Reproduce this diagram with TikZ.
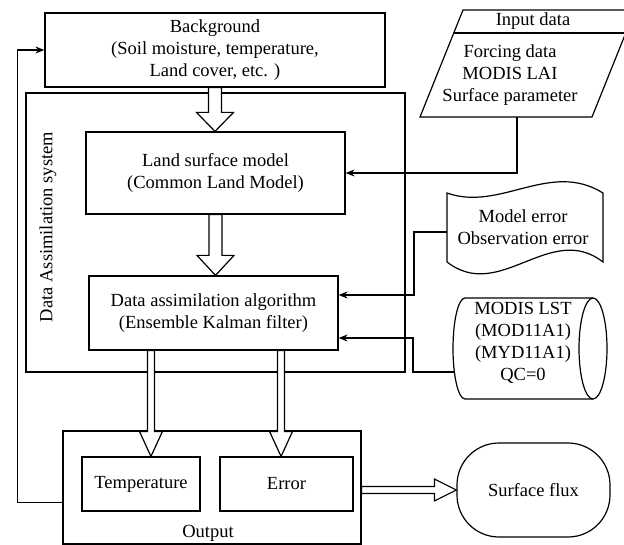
\documentclass[tikz,border=0pt]{standalone}
\usepackage{fontspec}
\setmainfont{Liberation Serif}
\usetikzlibrary{arrows.meta,calc}
\tikzset{
  box/.style={draw,line width=1.2pt,fill=white,align=center,inner sep=0pt,
    font=\fontsize{18.5}{22}\selectfont},
  txt/.style={align=center,inner sep=0pt,font=\fontsize{18.5}{22}\selectfont},
  conn/.style={line width=1.2pt,-{Stealth[length=9pt,width=7pt]}},
  fat/.style args={#1/#2/#3}{draw,fill=white,line width=1.2pt,to path={
    ($(\tikztostart)!#1!90:(\tikztotarget)$)
    -- ($($(\tikztotarget)!#3!(\tikztostart)$)!#1!90:(\tikztotarget)$)
    -- ($($(\tikztotarget)!#3!(\tikztostart)$)!#2!90:(\tikztotarget)$)
    -- (\tikztotarget)
    -- ($($(\tikztotarget)!#3!(\tikztostart)$)!#2!-90:(\tikztotarget)$)
    -- ($($(\tikztotarget)!#3!(\tikztostart)$)!#1!-90:(\tikztotarget)$)
    -- ($(\tikztostart)!#1!-90:(\tikztotarget)$) -- cycle}},
}
\begin{document}
\begin{tikzpicture}[x=1pt,y=-1pt]
  \clip (0,0) rectangle (624,545);
  \fill[white] (0,0) rectangle (624,545);
  % boxes
  \node[box,minimum width=379pt,minimum height=279pt] (da) at (215.5,232.5) {};
  \node[txt,rotate=90] (dalabel) at (48,227) {Data Assimilation system};
  \node[box,minimum width=340pt,minimum height=74pt] (bg) at (215,50)
    {Background\\(Soil moisture, temperature,\\Land cover, etc. )};
  \node[box,minimum width=259pt,minimum height=82pt] (lsm) at (215.5,173)
    {Land surface model\\(Common Land Model)};
  \node[box,minimum width=249pt,minimum height=74pt] (algo) at (213.5,313)
    {Data assimilation algorithm\\(Ensemble Kalman filter)};
  \node[box,minimum width=298pt,minimum height=113pt] (out) at (212,487.5) {};
  \node[txt] (outlabel) at (208,533) {Output};
  \node[box,minimum width=118pt,minimum height=54pt] (temp) at (141,484) {Temperature};
  \node[box,minimum width=133pt,minimum height=54pt] (error) at (286.5,484) {Error};
  \node[box,rounded corners=42pt,minimum width=153pt,minimum height=94pt] (flux)
    at (533.5,490) {Surface flux};
  % inputs
  \draw[line width=1.2pt] (420,117) -- (592,117) -- (635,10) -- (463,10) -- cycle;
  \draw[line width=1.2pt] (453.8,33) -- (625.8,33);
  \coordinate (input) at (517,117);
  \node[txt] (intitle) at (533,21) {Input data};
  \node[txt] (inbody) at (510,75) {Forcing data\\MODIS LAI\\Surface parameter};
  % tape
  \draw[line width=1.2pt,fill=white] (447,193) .. controls (500,212) and (550,160) .. (603,193)
    -- (603,262) .. controls (550,221) and (500,303) .. (447,262) -- cycle;
  \coordinate (merr) at (447,232);
  \node[txt] (merrtext) at (523,227.5) {Model error\\Observation error};
  % stored data
  \draw[line width=1.2pt,fill=white] (593,298) -- (465,298)
    arc[start angle=-90,end angle=-270,x radius=12,y radius=50.5] -- (593,399);
  \draw[line width=1.2pt,fill=white] (593,348.5) ellipse[x radius=14,y radius=50.5];
  \coordinate (lst) at (455,372);
  \node[txt] (lsttext) at (523,343) {MODIS LST\\(MOD11A1)\\(MYD11A1)\\QC=0};
  % hollow arrows
  \coordinate (f1) at (bg.south);
  \coordinate (g1) at (bg.south |- lsm.north);
  \coordinate (f2) at (lsm.south);
  \coordinate (g2) at (lsm.south |- algo.north);
  \coordinate (f3) at ($(algo.south west)!0.25!(algo.south east)$);
  \coordinate (g3) at (f3 |- temp.north);
  \coordinate (f4) at ($(algo.south west)!0.77!(algo.south east)$);
  \coordinate (g4) at (f4 |- error.north);
  \coordinate (f5) at (out.east |- flux.west);
  \coordinate (g5) at (flux.west);
  \path[fat=6.5pt/18.5pt/19pt] (f1) to (g1);
  \path[fat=6.5pt/18.5pt/20pt] (f2) to (g2);
  \path[fat=3.5pt/11.5pt/25pt] (f3) to (g3);
  \path[fat=3.5pt/11.5pt/25pt] (f4) to (g4);
  \path[fat=3.5pt/11pt/22pt] (f5) to (g5);
  % connectors
  \draw[conn] (input) |- (lsm.east);
  \draw[conn] (merr) -- ++(-33,0) |- ($(algo.east)+(0,-18)$);
  \draw[conn] (lst) -- ++(-42,0) |- ($(algo.east)+(0,25)$);
  \draw[conn] ($(out.west)+(0,15)$) -- ++(-45,0) |- (bg.west);
\end{tikzpicture}
\end{document}
